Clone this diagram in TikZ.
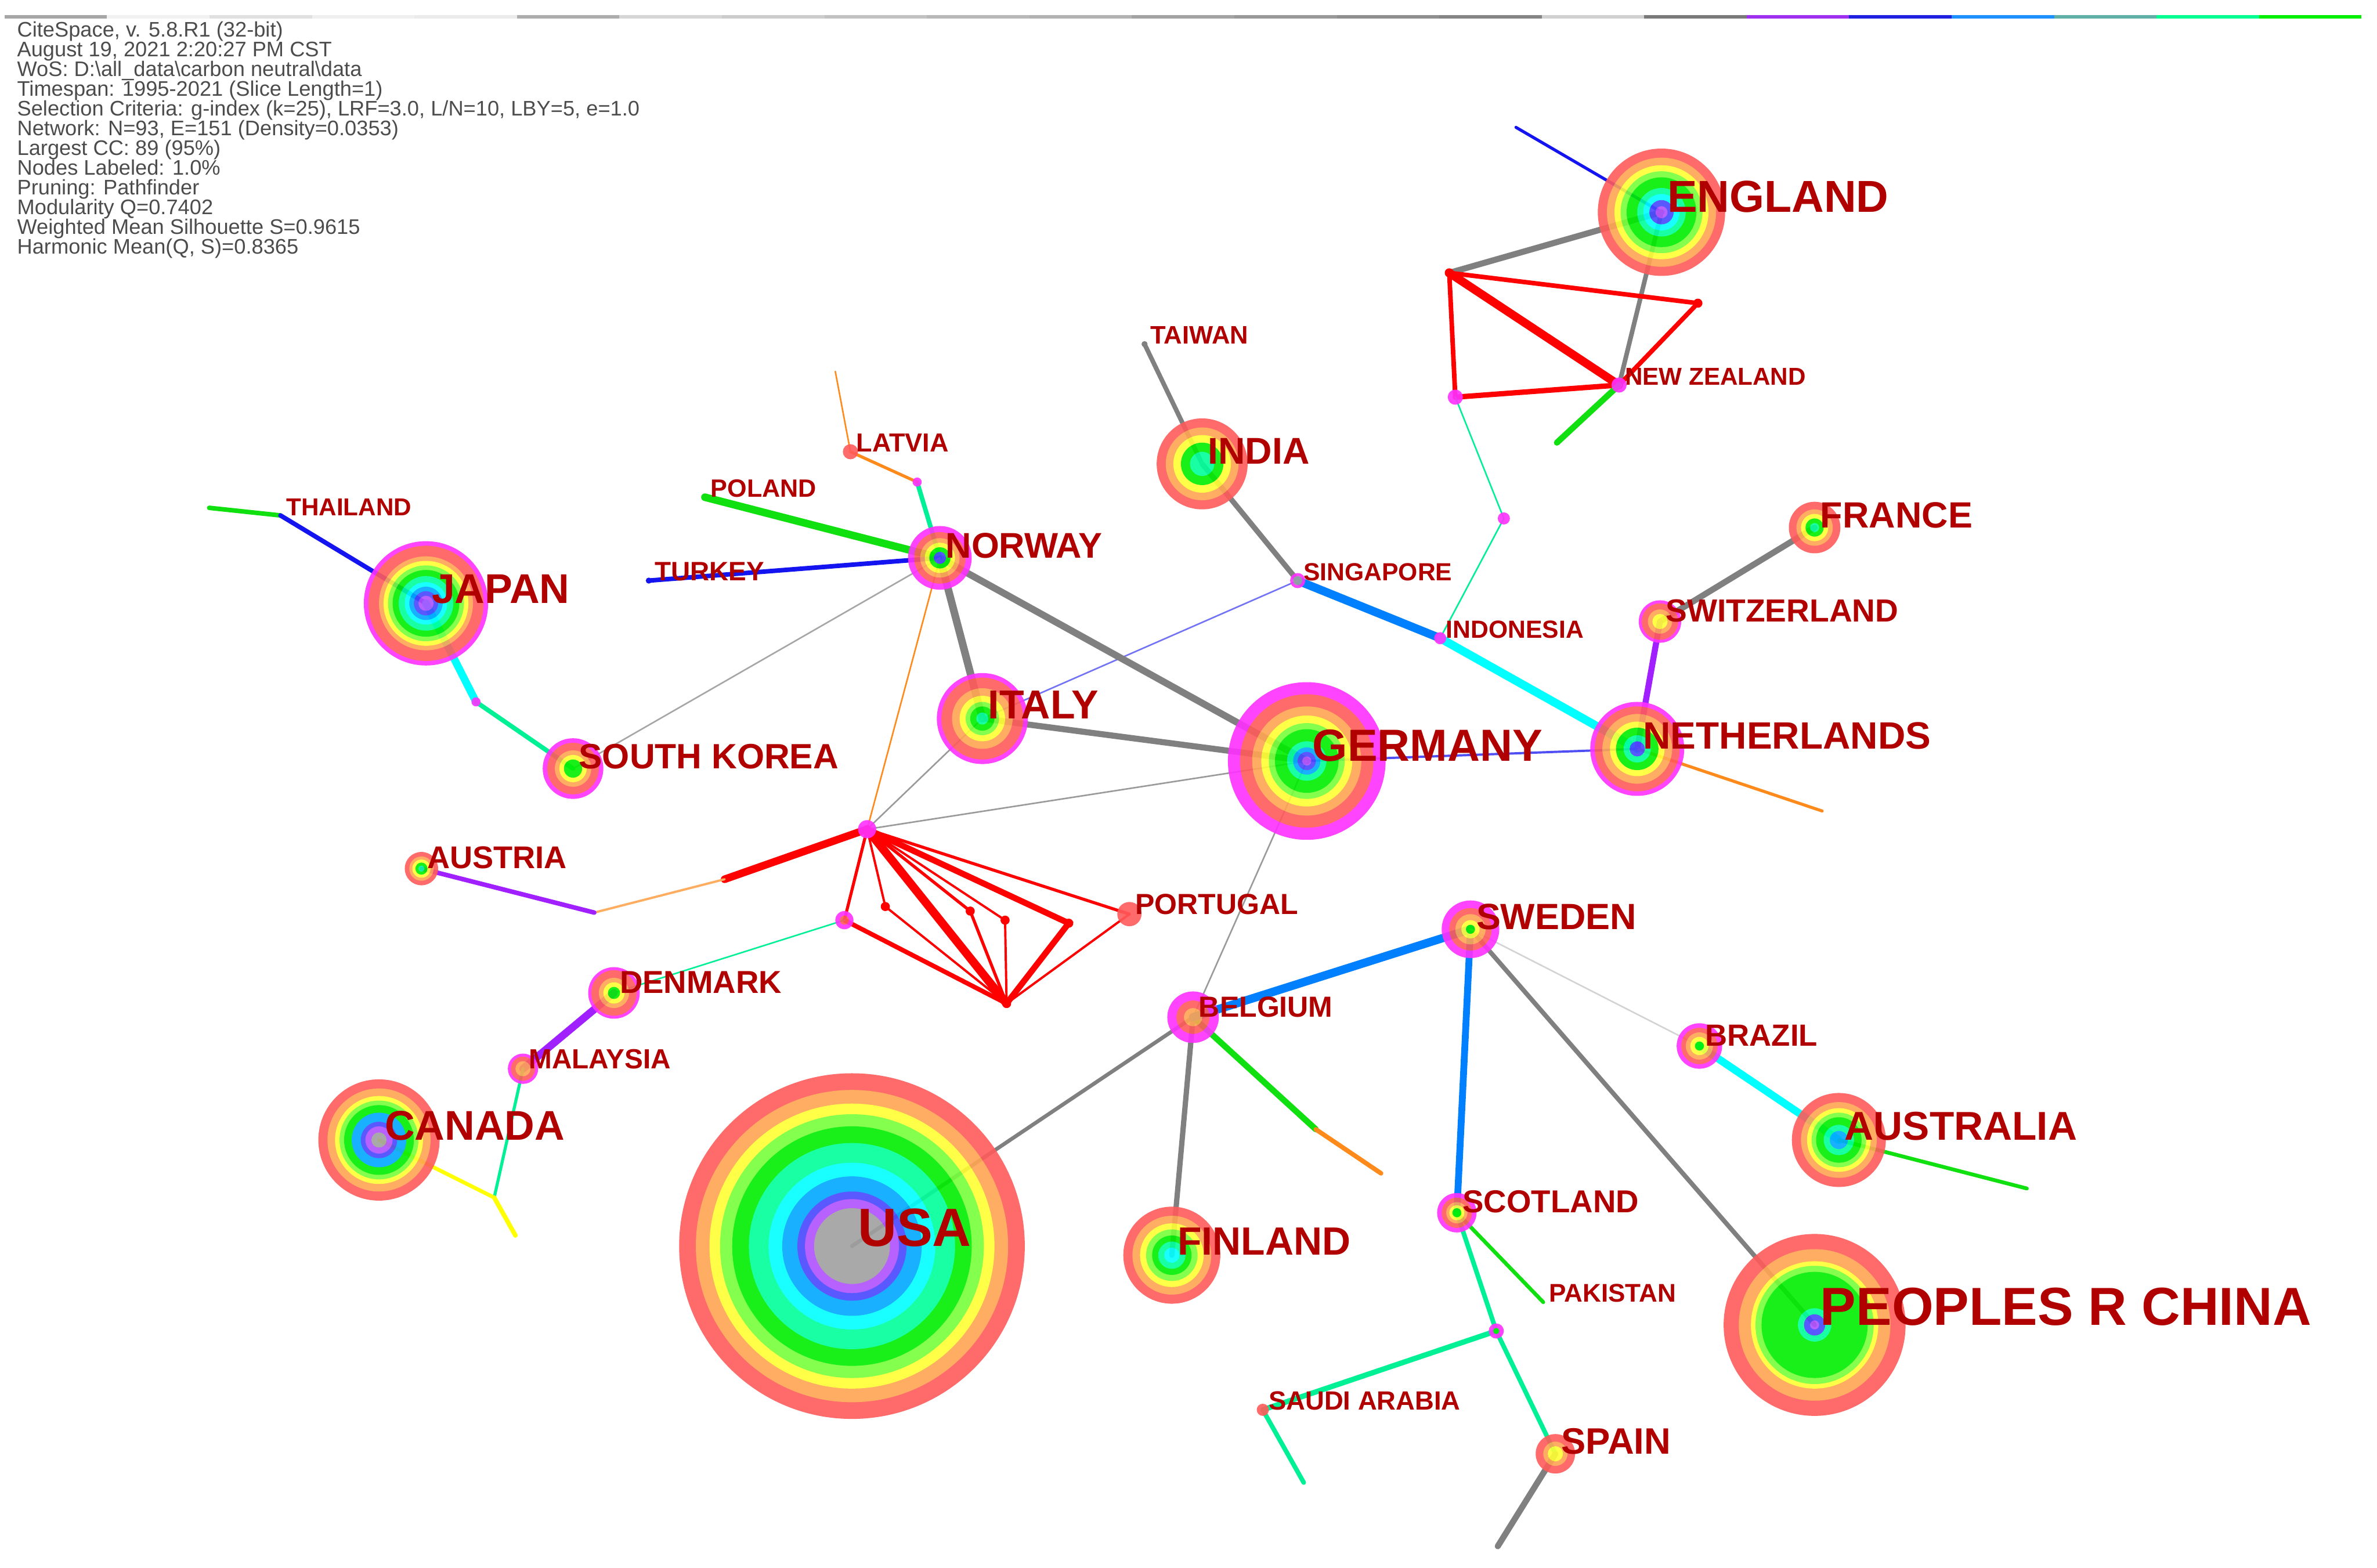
\documentclass[tikz,border=0pt]{standalone}
\usepackage{fontspec}
\setmainfont{Liberation Sans}
\usepackage{xcolor}
\usepackage{tikz}
\usetikzlibrary{backgrounds}

% ring colours (oldest slice inside, newest outside)
\definecolor{cRed}{HTML}{FF5A5A}
\definecolor{cOrange}{HTML}{FFA552}
\definecolor{cYellow}{HTML}{FFFF33}
\definecolor{cLime}{HTML}{77FF3A}
\definecolor{cGreen}{HTML}{00EE00}
\definecolor{cSpring}{HTML}{00FF99}
\definecolor{cCyan}{HTML}{00FFFF}
\definecolor{cAzure}{HTML}{00A8FF}
\definecolor{cBlue}{HTML}{4848FF}
\definecolor{cPurple}{HTML}{B050FF}
\definecolor{cGray}{HTML}{A0A0A0}
\definecolor{cMag}{HTML}{FF30FF}
% link colours
\definecolor{eGray}{HTML}{808080}
\definecolor{eRed}{HTML}{FF0000}
\definecolor{eOrange}{HTML}{FF8A1C}
\definecolor{eYellow}{HTML}{FFFF00}
\definecolor{eGreen}{HTML}{10E010}
\definecolor{eSpring}{HTML}{00F096}
\definecolor{eCyan}{HTML}{00FFFF}
\definecolor{eAzure}{HTML}{0080FF}
\definecolor{eBlue}{HTML}{1414F0}
\definecolor{ePurple}{HTML}{A020FF}
% timeline bar colours
\definecolor{barPurple}{HTML}{A030F0}
\definecolor{barBlue}{HTML}{2020E0}
\definecolor{barAzure}{HTML}{1E90FF}
\definecolor{barTeal}{HTML}{60B0A8}
\definecolor{barSpring}{HTML}{00FF90}
\definecolor{barGreen}{HTML}{00EE00}
% labels
\definecolor{lblRed}{HTML}{B00000}
\definecolor{lblBack}{HTML}{FFFFEE}

% tree rings of one country, outermost first
\newcommand{\rings}[2]{%
  \begin{scope}[transparency group, opacity=0.9]
    \foreach \r/\c in {#2} \fill[\c] (#1) circle (\r);
  \end{scope}}
% tight summary text
\newcommand{\infofont}{\fontsize{7.9}{7.4}\selectfont\lineskiplimit=-10pt\relax}

\begin{document}
\begin{tikzpicture}[
  x=0.02cm, y=-0.02cm,
  link/.style={line cap=round},
  ew/.style={line width=#1*0.57pt},
  lbl/.style={anchor=base west, inner sep=1pt, xshift=1pt, text=lblRed,
              font=\fontsize{#1}{#1}\selectfont\bfseries},
  info/.style={anchor=north west, align=left, inner sep=0pt, text=black!70,
               font=\infofont},
  bar/.style={line width=1.3pt}
]
\fill[white] (0,0) rectangle (1568,1034);
\useasboundingbox (0,0) rectangle (1568,1034);

% timeline bar
\foreach \c [count=\i from 0] in {black!35,black!5,black!12,black!6,black!8,black!32,
    black!16,black!20,black!24,black!28,black!30,black!36,black!40,black!44,black!48,
    black!18,black!52,barPurple,barBlue,barAzure,barTeal,barSpring,barGreen}
  \draw[bar,\c] ({3+67.6*\i},11) -- ({3+67.6*(\i+1)},11);

% run summary
\node[info] (summary) at (11,14) {CiteSpace, v. 5.8.R1 (32-bit)\\
August 19, 2021 2:20:27 PM CST\\
WoS: D:\textbackslash all\_data\textbackslash carbon neutral\textbackslash data\\
Timespan: 1995-2021 (Slice Length=1)\\
Selection Criteria: g-index (k=25), LRF=3.0, L/N=10, LBY=5, e=1.0\\
Network: N=93, E=151 (Density=0.0353)\\
Largest CC: 89 (95\%)\\
Nodes Labeled: 1.0\%\\
Pruning: Pathfinder\\
Modularity Q=0.7402\\
Weighted Mean Silhouette S=0.9615\\
Harmonic Mean(Q, S)=0.8365};

% country positions
\coordinate (england) at (1096,140);
\coordinate (engTip) at (1000,84);
\coordinate (nzLink) at (956,180);
\coordinate (nzEast) at (1120,200);
\coordinate (newzealand) at (1068,254);
\coordinate (nzSouth) at (960,262);
\coordinate (nzTip) at (1027,292);
\coordinate (idJoint) at (992,342);
\coordinate (taiwan) at (755,227);
\coordinate (india) at (793,306);
\coordinate (singapore) at (856,383);
\coordinate (indonesia) at (950,421);
\coordinate (france) at (1197,348);
\coordinate (switzerland) at (1095,410);
\coordinate (netherlands) at (1080,494);
\coordinate (nlTip) at (1202,535);
\coordinate (germany) at (862,502);
\coordinate (italy) at (648,474);
\coordinate (norway) at (620,368);
\coordinate (lvJoint) at (605,318);
\coordinate (latvia) at (561,298);
\coordinate (lvTip) at (551,245);
\coordinate (poland) at (465,328);
\coordinate (turkey) at (428,383);
\coordinate (thailand) at (185,340);
\coordinate (thTip) at (138,335);
\coordinate (japan) at (281,398);
\coordinate (jpJoint) at (314,463);
\coordinate (southkorea) at (378,507);
\coordinate (hub) at (572,547);
\coordinate (atJoint) at (478,580);
\coordinate (atLink) at (392,602);
\coordinate (austria) at (278,573);
\coordinate (dkJoint) at (557,607);
\coordinate (fanA) at (584,598);
\coordinate (fanB) at (640,601);
\coordinate (fanC) at (663,607);
\coordinate (fanD) at (705,609);
\coordinate (fanZ) at (664,662);
\coordinate (portugal) at (745,603);
\coordinate (denmark) at (405,655);
\coordinate (malaysia) at (345,705);
\coordinate (caJoint) at (326,790);
\coordinate (caTip) at (340,815);
\coordinate (canada) at (250,752);
\coordinate (usa) at (562,822);
\coordinate (belgium) at (787,671);
\coordinate (beJoint) at (868,745);
\coordinate (beTip) at (911,774);
\coordinate (finland) at (773,828);
\coordinate (sweden) at (970,613);
\coordinate (brazil) at (1121,690);
\coordinate (australia) at (1213,752);
\coordinate (auTip) at (1337,784);
\coordinate (scotland) at (961,800);
\coordinate (pakistan) at (1018,859);
\coordinate (esJoint) at (987,878);
\coordinate (saudi) at (833,930);
\coordinate (saTip) at (860,978);
\coordinate (spain) at (1026,959);
\coordinate (esTip) at (988,1020);
\coordinate (china) at (1197,874);

% links: England / New Zealand cluster
\draw[link, eBlue, ew=2] (england) -- (engTip);
\draw[link, eGray, ew=4] (england) -- (nzLink);
\draw[link, eGray, ew=3] (england) -- (newzealand);
\draw[link, eRed, ew=3] (nzLink) -- (nzEast);
\draw[link, eRed, ew=3] (nzEast) -- (newzealand);
\draw[link, eRed, ew=5.5] (nzLink) -- (newzealand);
\draw[link, eRed, ew=3] (nzLink) -- (nzSouth);
\draw[link, eRed, ew=3.5] (nzSouth) -- (newzealand);
\draw[link, eGreen, ew=4] (newzealand) -- (nzTip);
\draw[link, eSpring, ew=1] (nzSouth) -- (idJoint);
\draw[link, eSpring, ew=1] (idJoint) -- (indonesia);

% links: India / Singapore / Netherlands
\draw[link, eGray, ew=3] (taiwan) -- (india);
\draw[link, eGray, ew=3.5] (india) -- (singapore);
\draw[link, eAzure, ew=5.5] (singapore) -- (indonesia);
\draw[link, eCyan, ew=5.5] (indonesia) -- (netherlands);
\draw[link, eBlue!60, ew=1] (singapore) -- (italy);
\draw[link, eGray, ew=4] (france) -- (switzerland);
\draw[link, ePurple, ew=4] (switzerland) -- (netherlands);
\draw[link, eOrange, ew=2] (netherlands) -- (nlTip);
\draw[link, eBlue!75, ew=1.5] (germany) -- (netherlands);

% links: Norway / Italy / Germany
\draw[link, eGray, ew=4.5] (norway) -- (germany);
\draw[link, eGray, ew=5] (norway) -- (italy);
\draw[link, eGray, ew=4] (italy) -- (germany);
\draw[link, eSpring, ew=3] (norway) -- (lvJoint);
\draw[link, eOrange, ew=2] (lvJoint) -- (latvia);
\draw[link, eOrange, ew=1] (latvia) -- (lvTip);
\draw[link, eGreen, ew=5] (poland) -- (norway);
\draw[link, eBlue, ew=3] (turkey) -- (norway);
\draw[link, eGray!70, ew=1] (norway) -- (southkorea);
\draw[link, eOrange, ew=1] (norway) -- (hub);
\draw[link, eGray!80, ew=1] (italy) -- (hub);
\draw[link, eGray!80, ew=1] (hub) -- (germany);
\draw[link, eGray!80, ew=1] (germany) -- (belgium);

% links: Japan / South Korea
\draw[link, eGreen, ew=3] (thailand) -- (thTip);
\draw[link, eBlue, ew=3] (thailand) -- (japan);
\draw[link, eCyan, ew=5] (japan) -- (jpJoint);
\draw[link, eSpring, ew=3] (jpJoint) -- (southkorea);

% links: red fan below the hub
\draw[link, eRed, ew=5] (hub) -- (atJoint);
\draw[link, eOrange!70, ew=1.5] (atJoint) -- (atLink);
\draw[link, ePurple, ew=3] (atLink) -- (austria);
\draw[link, eRed, ew=2] (hub) -- (dkJoint);
\draw[link, eRed, ew=3] (dkJoint) -- (fanZ);
\draw[link, eSpring, ew=1] (dkJoint) -- (denmark);
\draw[link, eRed, ew=1.5] (hub) -- (fanA) -- (fanZ);
\draw[link, eRed, ew=5.5] (hub) -- (fanZ);
\draw[link, eRed, ew=2] (hub) -- (fanB) -- (fanZ);
\draw[link, eRed, ew=1.5] (hub) -- (fanC) -- (fanZ);
\draw[link, eRed, ew=4] (hub) -- (fanD) -- (fanZ);
\draw[link, eRed, ew=2] (hub) -- (portugal);
\draw[link, eRed, ew=1.5] (portugal) -- (fanZ);

% links: Denmark / Canada
\draw[link, ePurple, ew=5] (denmark) -- (malaysia);
\draw[link, eSpring, ew=2] (malaysia) -- (caJoint);
\draw[link, eYellow, ew=2.5] (caJoint) -- (canada);
\draw[link, eYellow, ew=3] (caJoint) -- (caTip);

% links: USA / Belgium / Sweden
\draw[link, eGray, ew=2.5] (usa) -- (belgium);
\draw[link, eGray, ew=3.5] (belgium) -- (finland);
\draw[link, eGreen, ew=4] (belgium) -- (beJoint);
\draw[link, eOrange, ew=3] (beJoint) -- (beTip);
\draw[link, eAzure, ew=5.5] (belgium) -- (sweden);
\draw[link, eAzure, ew=4.5] (sweden) -- (scotland);
\draw[link, eGray, ew=3] (sweden) -- (china);
\draw[link, eGray!35, ew=1] (sweden) -- (brazil);
\draw[link, eCyan, ew=5] (brazil) -- (australia);
\draw[link, eGreen, ew=2.5] (australia) -- (auTip);
\draw[link, eGreen, ew=2.5] (scotland) -- (pakistan);
\draw[link, eSpring, ew=3] (scotland) -- (esJoint);
\draw[link, eSpring, ew=3.5] (esJoint) -- (saudi);
\draw[link, eSpring, ew=3] (esJoint) -- (spain);
\draw[link, eSpring, ew=3] (saudi) -- (saTip);
\draw[link, eGray, ew=4] (spain) -- (esTip);

% tree rings
\rings{usa}{114/cRed,103/cOrange,94/cYellow,87/cLime,79/cGreen,68/cSpring,55/cCyan,46/cAzure,36/cBlue,31/cPurple,25/cGray}
\rings{china}{60/cRed,50/cOrange,42/cYellow,39/cLime,35/cGreen,11/cSpring,7/cBlue,3/cPurple}
\rings{germany}{52/cMag,44/cRed,36/cOrange,30/cYellow,25/cLime,21/cGreen,13/cSpring,9/cAzure,6/cBlue,3/cPurple}
\rings{england}{42/cRed,36/cOrange,31/cYellow,27/cLime,23/cGreen,16/cSpring,12/cCyan,8/cBlue,4/cPurple}
\rings{japan}{41/cMag,38/cRed,31/cOrange,28/cYellow,25/cLime,22/cGreen,18/cSpring,14/cCyan,11/cAzure,8/cBlue,5/cPurple}
\rings{canada}{40/cRed,34/cOrange,29/cYellow,26/cLime,23/cGreen,18/cAzure,12/cBlue,9/cPurple,5/cGray}
\rings{australia}{31/cRed,25/cOrange,21/cYellow,18/cLime,15/cGreen,10/cSpring,6/cAzure}
\rings{netherlands}{31/cMag,28/cRed,23/cOrange,18/cYellow,14/cGreen,9/cSpring,5/cBlue}
\rings{italy}{30/cMag,27/cRed,20/cOrange,15/cYellow,11/cLime,8/cGreen,4/cSpring}
\rings{india}{30/cRed,24/cOrange,19/cYellow,14/cGreen,8/cSpring}
\rings{finland}{32/cRed,26/cOrange,21/cYellow,17/cLime,13/cGreen,9/cSpring,5/cCyan}
\rings{norway}{21/cMag,17/cRed,13/cOrange,10/cYellow,7/cGreen,4/cBlue}
\rings{southkorea}{20/cMag,17/cRed,12/cOrange,9/cYellow,6/cGreen}
\rings{sweden}{19/cMag,14/cRed,10/cOrange,6/cYellow,3/cGreen}
\rings{france}{17/cRed,12/cOrange,9/cYellow,6/cGreen,3/cSpring}
\rings{denmark}{17/cMag,15/cRed,10/cOrange,7/cYellow,4/cGreen}
\rings{belgium}{17/cMag,11/cRed,6/cOrange}
\rings{brazil}{15/cMag,12/cRed,9/cOrange,6/cYellow,3/cGreen}
\rings{switzerland}{14/cMag,12/cRed,8/cOrange,5/cYellow}
\rings{scotland}{13/cMag,10/cRed,7/cOrange,5/cYellow,3/cGreen}
\rings{spain}{13/cRed,8/cOrange,5/cYellow}
\rings{austria}{11/cRed,8/cOrange,6/cYellow,4/cGreen,2/cSpring}
\rings{malaysia}{10/cMag,8/cRed,5/cOrange}
\rings{portugal}{8/cRed}
\rings{latvia}{5/cRed}
\rings{saudi}{4/cRed}
\rings{hub}{6/cMag}
\rings{dkJoint}{6/cMag,3/cRed}
\rings{singapore}{5/cMag,3/cGray}
\rings{newzealand}{5/cMag}
\rings{nzSouth}{5/cMag}
\rings{esJoint}{5/cMag,2/cGreen}
\rings{indonesia}{4/cMag}
\rings{idJoint}{4/cMag}
\rings{jpJoint}{3/cMag}
\rings{lvJoint}{3/cMag}
\foreach \p in {fanA,fanB,fanC,fanD,fanZ,nzLink,nzEast} \fill[eRed] (\p) circle (3);
\fill[eGray] (taiwan) circle (2);
\fill[eGreen] (poland) circle (2);
\fill[eBlue] (turkey) circle (2);

% country labels
\node[lbl=16.8] (england-t) at (england) {ENGLAND};
\node[lbl=9.2] (newzealand-t) at (newzealand) {NEW ZEALAND};
\node[lbl=9.5] (taiwan-t) at (taiwan) {TAIWAN};
\node[lbl=14] (india-t) at (india) {INDIA};
\node[lbl=9.3] (singapore-t) at (singapore) {SINGAPORE};
\node[lbl=9.3] (indonesia-t) at (indonesia) {INDONESIA};
\node[lbl=13.7] (france-t) at (france) {FRANCE};
\node[lbl=12] (switzerland-t) at (switzerland) {SWITZERLAND};
\node[lbl=14.3] (netherlands-t) at (netherlands) {NETHERLANDS};
\node[lbl=16.9] (germany-t) at (germany) {GERMANY};
\node[lbl=15.2] (italy-t) at (italy) {ITALY};
\node[lbl=13.4] (norway-t) at (norway) {NORWAY};
\node[lbl=9.8] (latvia-t) at (latvia) {LATVIA};
\node[lbl=9.4] (poland-t) at (poland) {POLAND};
\node[lbl=10] (turkey-t) at (turkey) {TURKEY};
\node[lbl=9.2] (thailand-t) at (thailand) {THAILAND};
\node[lbl=15.6] (japan-t) at (japan) {JAPAN};
\node[lbl=13.2] (southkorea-t) at (southkorea) {SOUTH KOREA};
\node[lbl=11.8] (austria-t) at (austria) {AUSTRIA};
\node[lbl=10.9] (portugal-t) at (portugal) {PORTUGAL};
\node[lbl=11.9] (denmark-t) at (denmark) {DENMARK};
\node[lbl=10.4] (malaysia-t) at (malaysia) {MALAYSIA};
\node[lbl=15.6] (canada-t) at (canada) {CANADA};
\node[lbl=20.2] (usa-t) at (usa) {USA};
\node[lbl=10.9] (belgium-t) at (belgium) {BELGIUM};
\node[lbl=14.8] (finland-t) at (finland) {FINLAND};
\node[lbl=13.7] (sweden-t) at (sweden) {SWEDEN};
\node[lbl=11.5] (brazil-t) at (brazil) {BRAZIL};
\node[lbl=15.1] (australia-t) at (australia) {AUSTRALIA};
\node[lbl=11.9] (scotland-t) at (scotland) {SCOTLAND};
\node[lbl=9.6] (pakistan-t) at (pakistan) {PAKISTAN};
\node[lbl=9.9] (saudi-t) at (saudi) {SAUDI ARABIA};
\node[lbl=13.8] (spain-t) at (spain) {SPAIN};
\node[lbl=20.1] (china-t) at (china) {PEOPLES R CHINA};

% pale label backdrops
\begin{scope}[on background layer]
\foreach \t in {england,newzealand,taiwan,india,singapore,indonesia,france,switzerland,
    netherlands,germany,italy,norway,latvia,poland,turkey,thailand,japan,southkorea,
    austria,portugal,denmark,malaysia,canada,usa,belgium,finland,sweden,brazil,
    australia,scotland,pakistan,saudi,spain,china}
  \fill[lblBack] ([shift={(-1pt,-5pt)}]\t-t.south west) rectangle ([shift={(4pt,4pt)}]\t-t.north east);
\end{scope}
\end{tikzpicture}
\end{document}
